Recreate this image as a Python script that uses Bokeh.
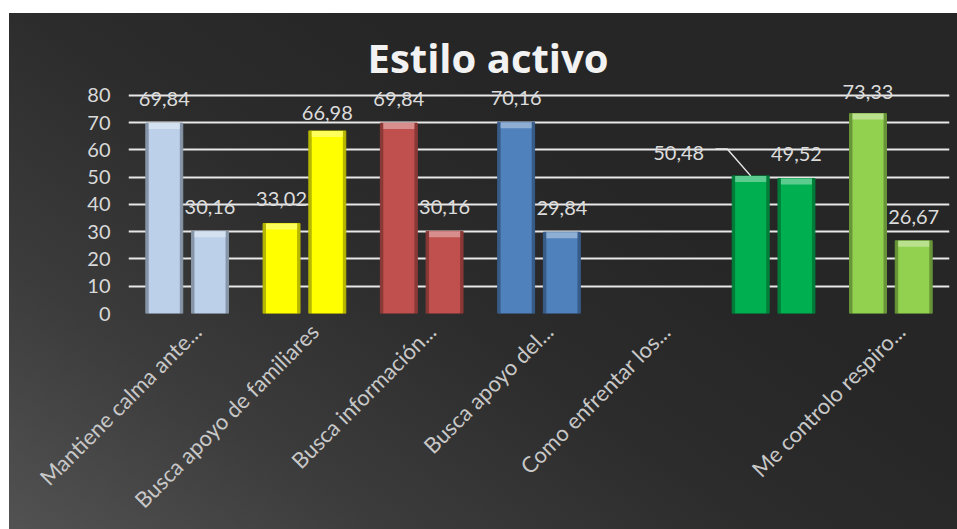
import math
from bokeh.plotting import figure
from bokeh.models import (ColumnDataSource, LabelSet, FixedTicker, Range1d, LinearAxis,
                          GlobalInlineStyleSheet)
from bokeh.core.properties import value
from bokeh.embed import file_html
from bokeh.resources import INLINE

# ---- data ----
categories = ["Mantiene calma ante...", "Busca apoyo de familiares", "Busca información...",
              "Busca apoyo del...", "Como enfrentar los...", "", "Me controlo respiro..."]
serie1 = [69.84, 33.02, 69.84, 70.16, None, 50.48, 73.33]
serie2 = [30.16, 66.98, 30.16, 29.84, None, 49.52, 26.67]
bar_colors = ["#bcd0ea", "#ffff00", "#c0504d", "#4f81bd", "#808080", "#00b050", "#92d050"]
y_ticks = [0, 10, 20, 30, 40, 50, 60, 70, 80]
title_text = "Estilo activo"

def shade(hexc, f):
    h = hexc.lstrip("#")
    c = [int(h[k:k + 2], 16) for k in (0, 2, 4)]
    if f < 1:
        c = [int(v * f) for v in c]
    else:
        c = [int(v + (255 - v) * (f - 1)) for v in c]
    return "#%02x%02x%02x" % tuple(c)

def fmt(v):
    return ("%.2f" % v).replace(".", ",")

OFF = 0.195
BW = 0.315

xs, tops, fills, edges, lights, ltxt, ldx, ldy = [], [], [], [], [], [], [], []
for i, (a, b) in enumerate(zip(serie1, serie2)):
    for j, v in enumerate((a, b)):
        if v is None:
            continue
        x = i + 0.5 + (-OFF if j == 0 else OFF)
        xs.append(x)
        tops.append(v)
        fills.append(bar_colors[i])
        edges.append(shade(bar_colors[i], 0.72))
        lights.append(shade(bar_colors[i], 1.45))
        ltxt.append(fmt(v))
        dx, dy = 0, 24
        if i == 5 and j == 0:
            dx, dy = -72, 23
        if i == 1 and j == 1:
            dy = 18
        if i == 6 and j == 0:
            dy = 22
        ldx.append(dx)
        ldy.append(dy)

src = ColumnDataSource(dict(x=xs, top=tops, fill=fills, edge=edges, light=lights,
                            text=ltxt, dx=ldx, dy=ldy,
                            captop=[t - 2.2 for t in tops]))

Y_END = 84.0
p = figure(width=948, height=516, x_range=Range1d(0, 7), y_range=Range1d(0, Y_END),
           output_backend="svg", toolbar_location=None, x_axis_location=None,
           min_border_left=119, min_border_right=8, min_border_top=71, min_border_bottom=216)

p.stylesheets = [GlobalInlineStyleSheet(css="html, body { margin: 0 !important; padding: 0 !important; overflow: hidden; }")]
p.styles = {"margin-top": "13px", "margin-left": "9px",
            "background": "linear-gradient(35deg, #525252 0%, #3c3c3c 22%, #2c2c2c 45%, #262626 65%, #262626 100%)"}
p.background_fill_alpha = 0
p.border_fill_alpha = 0
p.outline_line_color = None

# bars with a simple bevel look
p.vbar(x="x", top="top", width=BW, source=src, fill_color="edge", line_color="edge", line_width=1)
p.vbar(x="x", top="top", bottom=0, width=BW - 0.05, source=src, fill_color="fill", line_color=None)
p.vbar(x="x", top="top", bottom="captop", width=BW - 0.05, source=src, fill_color="light",
       fill_alpha=0.8, line_color=None)

# leader line for the 50,48 label
lv = serie1[5]
lx = 5 + 0.5 - OFF
p.line(x=[lx - 0.30, lx - 0.20, lx], y=[lv + 9.9, lv + 9.9, lv], line_color="#e6e6e6", line_width=1.5)

labels = LabelSet(x="x", y="top", text="text", x_offset="dx", y_offset="dy", source=src,
                  text_align="center", text_baseline="middle",
                  text_font=value("Lato"), text_font_size="20px", text_color="#dcdcdc")
p.add_layout(labels)

# title
p.title.text = title_text
p.title.text_font = "Open Sans"
p.title.text_font_style = "bold"
p.title.text_font_size = "40px"
p.title.text_color = "#f2f2f2"
p.title.align = "left"
p.title.offset = 239
p.title.standoff = 0

# y axis
p.yaxis.ticker = FixedTicker(ticks=y_ticks)
p.yaxis.axis_line_color = None
p.yaxis.major_tick_line_color = None
p.yaxis.minor_tick_line_color = None
p.yaxis.major_label_text_font = "Lato"
p.yaxis.major_label_text_font_size = "20px"
p.yaxis.major_label_text_color = "#d9d9d9"
p.yaxis.major_label_standoff = 12

# grid (the 0 line doubles as the category axis line)
p.xgrid.grid_line_color = None
p.ygrid.ticker = FixedTicker(ticks=y_ticks)
p.ygrid.grid_line_color = "#e8e8e8"
p.ygrid.grid_line_width = 2

# category axis (slightly shifted range so the rotated labels sit like the original)
p.extra_x_ranges = {"lab": Range1d(-0.085, 6.915)}
tick_pos = [i + 0.5 for i in range(len(categories))]
xaxis = LinearAxis(x_range_name="lab", ticker=FixedTicker(ticks=tick_pos))
xaxis.major_label_overrides = {t: c for t, c in zip(tick_pos, categories)}
xaxis.major_label_orientation = math.pi / 4
xaxis.axis_line_color = None
xaxis.major_tick_line_color = None
xaxis.minor_tick_line_color = None
xaxis.major_label_text_font = "Lato"
xaxis.major_label_text_font_size = "22px"
xaxis.major_label_text_color = "#c8c8c8"
xaxis.major_label_standoff = 8
p.add_layout(xaxis, "below")

open("out.html", "w").write(file_html(p, INLINE))
